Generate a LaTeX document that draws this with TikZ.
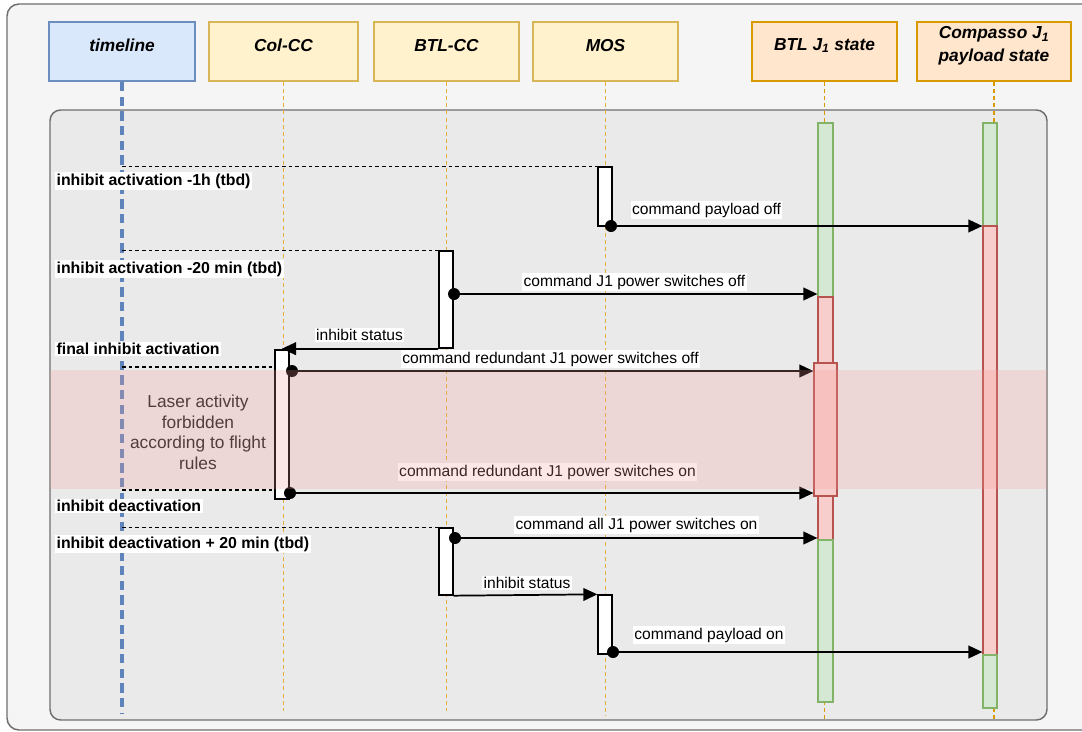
\documentclass[tikz,border=0pt]{standalone}
\usepackage{fontspec}
\setmainfont{Liberation Sans}
\usetikzlibrary{arrows.meta,fit}

\definecolor{frameg}{HTML}{6E6E6E}
\definecolor{outerbg}{HTML}{F5F5F5}
\definecolor{innerbg}{HTML}{EAEAEA}
\definecolor{blueF}{HTML}{DAE8FC}
\definecolor{blueD}{HTML}{6C8EBF}
\definecolor{blueL}{HTML}{5F84BC}
\definecolor{yelF}{HTML}{FFF2CC}
\definecolor{yelD}{HTML}{D6B656}
\definecolor{yelL}{HTML}{E6AE3A}
\definecolor{oraF}{HTML}{FFE6CC}
\definecolor{oraD}{HTML}{D79B00}
\definecolor{grnF}{HTML}{D5E8D4}
\definecolor{grnD}{HTML}{82B366}
\definecolor{redF}{HTML}{F8CECC}
\definecolor{redD}{HTML}{B85450}
\definecolor{bandc}{HTML}{F49A9A}

\begin{document}
\begin{tikzpicture}[x=0.75pt,y=-0.75pt,
  hdr/.style={draw, inner sep=0pt, align=center,
    font=\fontsize{13}{17}\selectfont\bfseries\itshape},
  hdrblue/.style={hdr, fill=blueF, draw=blueD, line width=1.7pt},
  hdryel/.style={hdr, fill=yelF, draw=yelD, line width=1pt},
  hdrora/.style={hdr, fill=oraF, draw=oraD, line width=1.3pt},
  lifeblue/.style={draw=blueL, line width=2.6pt, dash pattern=on 7pt off 4pt},
  lifeyel/.style={draw=yelL, line width=1.1pt, dash pattern=on 3pt off 2.4pt},
  lifeora/.style={draw=oraD, line width=1.1pt, dash pattern=on 3pt off 2.4pt},
  bargrn/.style={draw=grnD, fill=grnF, line width=0.9pt, inner sep=0pt},
  barred/.style={draw=redD, fill=redF, line width=0.9pt, inner sep=0pt},
  actbox/.style={draw=black, fill=white, line width=1pt, inner sep=0pt},
  tick/.style={draw=black, line width=0.9pt, dash pattern=on 2.8pt off 2.2pt},
  msg/.style={draw=black, line width=1.3pt, -{Triangle[length=10.5pt,width=9.5pt]}},
  startdot/.style={circle, fill=black, inner sep=0pt, minimum size=9pt},
  msglabel/.style={fill=white, inner sep=1pt, font=\fontsize{11.7}{13}\selectfont},
  evlabel/.style={fill=white, inner sep=1pt, anchor=west,
    font=\fontsize{11.9}{13}\selectfont\bfseries},
]
\useasboundingbox (0,0) rectangle (1082,732);

% frames
\draw[fill=outerbg, draw=frameg, line width=1.1pt, rounded corners=9pt]
  (7,4) rectangle (1100,730);
\draw[fill=innerbg, draw=frameg, line width=1.1pt, rounded corners=8pt]
  (50,110) rectangle (1047,720);

% participants
\node[hdrblue, fit={(49,22) (195,81)}] (tl) {timeline};
\node[hdryel, fit={(209,22) (358,81)}] (colcc) {Col-CC};
\node[hdryel, fit={(374,22) (519,81)}] (btlcc) {BTL-CC};
\node[hdryel, fit={(533,22) (678,81)}] (mos) {MOS};
\node[hdrora, fit={(752,22) (897,81)}] (btlj) {BTL J\textsubscript{1} state};
\node[hdrora, fit={(917,22) (1071,81)}] (comp) {Compasso J\textsubscript{1}\\payload state};

% lifelines
\draw[lifeblue] (tl.south) -- ++(0,632);
\draw[lifeyel] (colcc.south) -- ++(0,629);
\draw[lifeyel] (btlcc.south) -- ++(0,629);
\draw[lifeyel] (mos.south) -- ++(0,634);
\draw[lifeora] (btlj.south) -- ++(0,637);
\draw[lifeora] (comp.south) -- ++(0,637);

% state bars
\node[bargrn, fit={(818,123) (833,297)}] (bj1) {};
\node[barred, fit={(818,297) (833,540)}] (bj2) {};
\node[bargrn, fit={(818,540) (833,702)}] (bj3) {};
\node[barred, fit={(814,363) (837,496)}] (bjx) {};
\node[bargrn, fit={(983,123) (997,226)}] (cp1) {};
\node[barred, fit={(983,226) (997,655)}] (cp2) {};
\node[bargrn, fit={(983,655) (997,708)}] (cp3) {};

% activations
\node[actbox, fit={(598,167) (612,226)}] (m1) {};
\node[actbox, fit={(439,251) (453,348)}] (b1) {};
\node[actbox, fit={(275,350) (289,499)}] (cc) {};
\node[actbox, fit={(439,528) (453,595)}] (b2) {};
\node[actbox, fit={(598,595) (612,654)}] (m2) {};

% time markers
\coordinate (k3) at (275,367);
\coordinate (k4) at (275,490);
\draw[tick] (m1.north west -| tl.south) -- (m1.north west);
\draw[tick] (b1.north west -| tl.south) -- (b1.north west);
\draw[tick] (k3 -| tl.south) -- (k3);
\draw[tick] (k4 -| tl.south) -- (k4);
\draw[tick] (b2.north west -| tl.south) -- (b2.north west);

% messages
\coordinate (s1) at (611,226);
\coordinate (s2) at (454,294);
\coordinate (s4) at (292,371);
\coordinate (s5) at (290,493);
\coordinate (s6) at (455,538);
\coordinate (s8) at (613,652);
\draw[msg] (s1) node[startdot]{} -- (s1 -| cp2.west);
\draw[msg] (s2) node[startdot]{} -- (s2 -| bj2.west);
\draw[msg] (b1.south west) -- (b1.south west -| cc.north);
\draw[msg] (s4) node[startdot]{} -- (s4 -| bjx.west);
\draw[msg] (s5) node[startdot]{} -- (s5 -| bjx.west);
\draw[msg] (s6) node[startdot]{} -- (s6 -| bj3.west);
\draw[msg] (b2.south east) -- (m2.north west);
\draw[msg] (s8) node[startdot]{} -- (s8 -| cp3.west);

% message labels
\node[msglabel] (l1) at (706.5,210) {command payload off};
\node[msglabel] (l2) at (634.5,282) {command J1 power switches off};
\node[msglabel] (l3) at (359.5,335) {inhibit status};
\node[msglabel] (l4) at (550.5,359) {command redundant J1 power switches off};
\node[msglabel] (l5) at (547.5,472) {command redundant J1 power switches on};
\node[msglabel] (l6) at (636.5,525) {command all J1 power switches on};
\node[msglabel] (l7) at (527,583) {inhibit status};
\node[msglabel] (l8) at (709,635) {command payload on};

% event labels
\node[evlabel] (e1) at (55,181) {inhibit activation -1h (tbd)};
\node[evlabel] (e2) at (55,269) {inhibit activation -20 min (tbd)};
\node[evlabel] (e3) at (55,349) {final inhibit activation};
\node[evlabel] (e4) at (55,506) {inhibit deactivation};
\node[evlabel] (e5) at (55,544) {inhibit deactivation + 20 min (tbd)};

% restricted period
\node[align=center, text=black!88, font=\fontsize{13}{15.4}\selectfont] (laser) at (198,432.5)
  {Laser activity\\forbidden\\according to flight\\rules};
\fill[bandc, opacity=0.24] (50,370) rectangle (1047,489);
\end{tikzpicture}
\end{document}
